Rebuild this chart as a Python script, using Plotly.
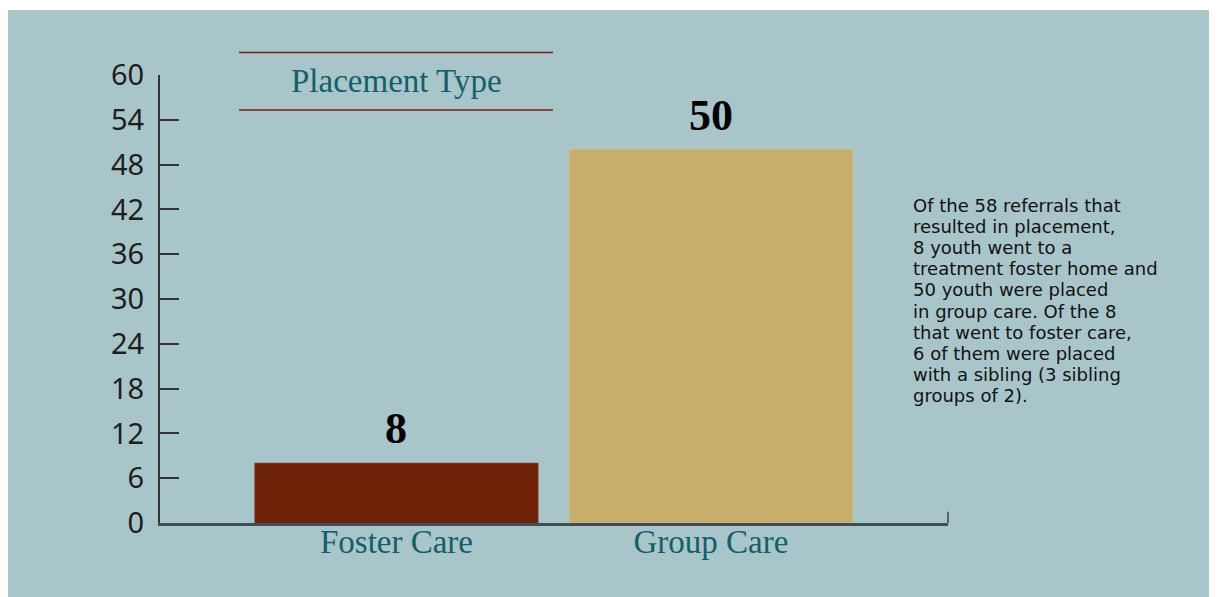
import plotly.graph_objects as go

categories = ["Foster Care", "Group Care"]
counts = [8, 50]
bar_colors = ["#6f2207", "#c9ad6a"]
y_ticks = [0, 6, 12, 18, 24, 30, 36, 42, 48, 54, 60]
title_text = "Placement Type"
note_lines = [
    "Of the 58 referrals that",
    "resulted in placement,",
    "8 youth went to a",
    "treatment foster home and",
    "50 youth were placed",
    "in group care. Of the 8",
    "that went to foster care,",
    "6 of them were placed",
    "with a sibling (3 sibling",
    "groups of 2).",
]

teal_bg = "#a8c6c9"
title_teal = "#135f6b"
rule_red = "#7b2012"
serif = "Liberation Serif, Times New Roman, serif"
sans = "Noto Sans, DejaVu Sans, sans-serif"
note_font = "DejaVu Sans, sans-serif"

fig = go.Figure()
fig.add_trace(go.Bar(
    x=categories,
    y=counts,
    marker=dict(color=bar_colors, line=dict(color=["#7a2c12", "#d3ba7c"], width=1)),
    hoverinfo="x+y",
))

# value labels above bars
for cat, val in zip(categories, counts):
    fig.add_annotation(x=cat, y=val, xref="x", yref="y", text=str(val),
                       showarrow=False, yanchor="bottom", yshift=8,
                       font=dict(family=serif, size=44, color="#000000", weight="bold"))

# chart title between two rules
fig.add_annotation(x=0, y=0.987, xref="x", yref="paper", text=title_text,
                   showarrow=False, xanchor="center", yanchor="middle",
                   font=dict(family=serif, size=33, color=title_teal))
for yy in [1.0502, 0.9219]:
    fig.add_shape(type="line", xref="paper", yref="paper",
                  x0=0.1003, x1=0.4987, y0=yy, y1=yy,
                  line=dict(color=rule_red, width=1.5))

# side note, one annotation per line to keep the tight leading
for i, line in enumerate(note_lines):
    fig.add_annotation(x=0.9531, y=0.7098, xref="paper", yref="paper",
                       text=line, showarrow=False, xanchor="left", yanchor="middle",
                       yshift=-21.2 * i,
                       font=dict(family=note_font, size=18, color="#111111"))

# teal panel and the little end tick on the x axis
fig.add_shape(type="rect", xref="paper", yref="paper", layer="below",
              x0=-0.1929, x1=1.3414, y0=-0.1652, y1=1.1451,
              fillcolor=teal_bg, line=dict(width=0))
fig.add_shape(type="line", xref="paper", yref="paper",
              x0=1, x1=1, y0=0, y1=0.025,
              line=dict(color="#52646b", width=2))

# page body adds 8px, so margins are measured 8px short
fig.update_layout(
    width=1217, height=597,
    margin=dict(l=152, r=277, t=67, b=82),
    paper_bgcolor="white",
    plot_bgcolor="rgba(0,0,0,0)",
    bargap=0.1,
    showlegend=False,
    xaxis=dict(
        type="category",
        range=[-0.752, 1.754],
        showline=True, linecolor="#3f4e55", linewidth=3,
        ticks="", showgrid=False, zeroline=False,
        ticklabelstandoff=-13,
        tickfont=dict(family=serif, size=33, color=title_teal),
    ),
    yaxis=dict(
        range=[0, 60],
        tickvals=y_ticks,
        showline=True, linecolor="#333333", linewidth=2,
        ticks="inside", ticklen=19, tickwidth=2, tickcolor="#333333",
        showgrid=False, zeroline=False,
        ticklabelstandoff=8,
        tickfont=dict(family=sans, size=29, color="#1e1e1e"),
    ),
)

fig.write_html("out.html")
